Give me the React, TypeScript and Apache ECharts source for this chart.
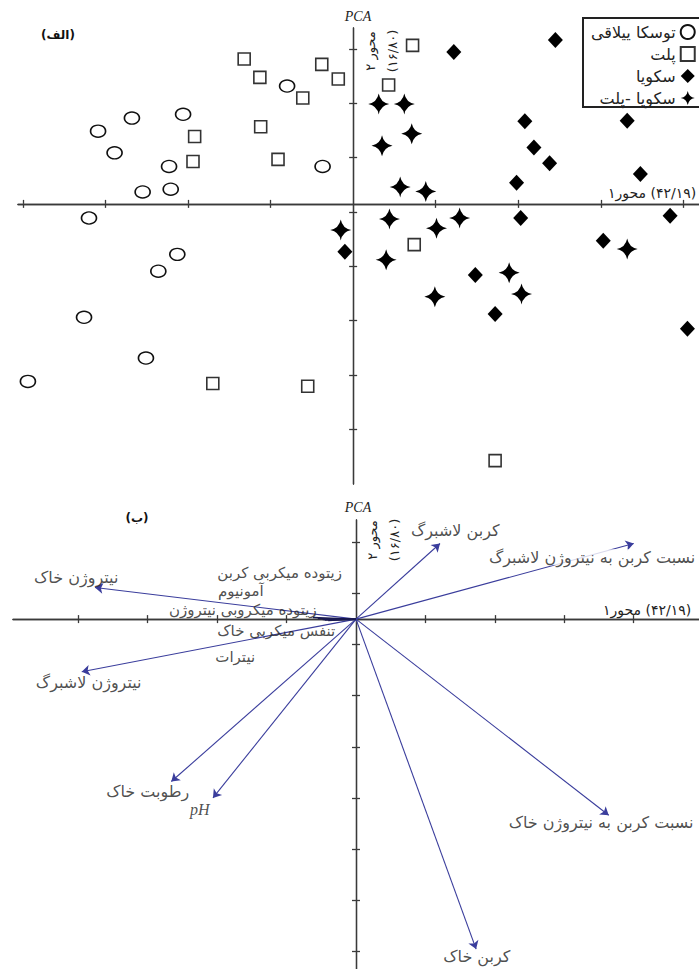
import React, { useEffect, useRef } from 'react';
import * as echarts from 'echarts';

// ---------- DATA ----------
const groupNames = ['توسکا ییلاقی', 'پلت', 'سکویا', 'سکویا -پلت'];

const alderScores = [
  [-3.09, 1.34], [-2.68, 1.58], [-2.06, 1.65], [-2.89, 0.94], [-2.23, 0.69],
  [-2.55, 0.22], [-2.21, 0.27], [-0.80, 2.17], [-0.37, 0.69], [-3.20, -0.26],
  [-2.13, -0.93], [-2.36, -1.24], [-3.26, -2.09], [-2.51, -2.84], [-3.94, -3.27],
];
const plantationScores = [
  [-1.32, 2.67], [-1.13, 2.33], [-0.38, 2.57], [-0.18, 2.30], [-0.61, 1.95],
  [-1.12, 1.42], [-1.92, 1.24], [-1.94, 0.78], [-0.91, 0.82], [0.72, 2.92],
  [0.43, 2.19], [-1.70, -3.31], [-0.55, -3.36], [0.74, -0.75], [1.72, -4.73],
];
const sequoiaScores = [
  [1.22, 2.80], [2.45, 3.02], [2.08, 1.52], [2.19, 1.04], [2.38, 0.75],
  [1.98, 0.39], [3.32, 1.53], [3.48, 0.55], [2.03, -0.26], [3.84, -0.22],
  [-0.10, -0.88], [3.03, -0.68], [1.48, -1.31], [1.72, -2.03], [4.05, -2.30],
];
const sequoiaPlantScores = [
  [0.31, 1.84], [0.62, 1.84], [0.71, 1.29], [0.35, 1.07], [0.57, 0.31],
  [0.88, 0.23], [0.44, -0.28], [1.01, -0.45], [1.29, -0.26], [-0.15, -0.48],
  [0.40, -1.03], [0.99, -1.71], [1.89, -1.27], [2.04, -1.66], [3.32, -0.83],
];

const variableNames = [
  'نیتروژن خاک', 'نیتروژن لاشبرگ', 'کربن لاشبرگ', 'نسبت کربن به نیتروژن لاشبرگ',
  'رطوبت خاک', 'pH', 'کربن خاک', 'نسبت کربن به نیتروژن خاک',
];
const variableLoadings = [
  [-3.76, 0.62], [-3.95, -1.03], [1.21, 1.48], [4.0, 1.48],
  [-2.66, -3.18], [-2.06, -3.50], [1.73, -6.46], [3.64, -3.84],
];
const variableLabelPos = [
  [-4.03, 0.82], [-3.85, -1.25], [1.43, 1.74], [3.40, 1.21],
  [-3.0, -3.37], [-2.25, -3.72], [1.74, -6.61], [3.53, -3.99],
];

const minorVariableNames = [
  'زیتوده میکربی کربن', 'آمونیوم', 'زیتوده میکروبی نیتروژن', 'تنفس میکربی خاک', 'نیترات',
];
const minorVariableLoadings = [
  [-0.62, 0.03], [-0.55, 0.01], [-0.48, 0.0], [-0.45, -0.02], [-0.40, -0.03],
];
const minorVariableLabelPos = [
  [-1.10, 0.90], [-1.66, 0.55], [-1.63, 0.17], [-1.15, -0.23], [-1.74, -0.74],
];

const topXTicks = [-4, -3, -2, -1, 1, 2, 3, 4];
const topYTicks = [2.85, 1.85, 0.85, -0.15, -1.15, -2.15, -3.15, -4.15];
const bottomXTicks = [-4, -3, -2, -1, 1, 2, 3, 4];
const bottomYTicks = [1.5, 0.5, -0.5, -1.5, -2.5, -3.5, -4.5, -5.5, -6.5];

// ---------- STYLE ----------
const FONT = '"DejaVu Sans", sans-serif';
const SERIF = '"Liberation Serif", "DejaVu Serif", serif';
const AXIS = '#3a3a3a';
const ARROW = '#3a3d9c';
const STAR = 'path://M10,0 Q11.6,8.4 20,10 Q11.6,11.6 10,20 Q8.4,11.6 0,10 Q8.4,8.4 10,0 Z';

function axisPair(kind: 'x' | 'y', gridIndex: number, min: number, max: number, ticks: number[]) {
  const positions = kind === 'x' ? ['bottom', 'top'] : ['left', 'right'];
  return positions.map((position) => ({
    type: 'value',
    gridIndex,
    position,
    min,
    max,
    axisLine: { show: true, onZero: true, lineStyle: { color: AXIS, width: 1.3 } },
    axisTick: { show: true, length: 4, customValues: ticks, lineStyle: { color: AXIS, width: 1.3 } },
    axisLabel: { show: false },
    splitLine: { show: false },
  }));
}

function axisOneLabel(x: number, y: number) {
  return {
    type: 'text',
    x,
    y,
    style: {
      text: '{a|۱}{b|محور}{c| (۴۲/۱۹)}',
      fontFamily: FONT,
      fontSize: 14,
      fill: '#222',
      align: 'left',
      verticalAlign: 'middle',
      rich: { a: {}, b: {}, c: {} },
    },
  };
}

export default function App() {
  const ref = useRef<HTMLDivElement>(null);

  useEffect(() => {
    if (!ref.current) return;
    const chart = echarts.init(ref.current, null, { renderer: 'svg' });

    const majorLines = variableLoadings.map((p) => ({ coords: [[0, 0], p] }));
    const minorLines = minorVariableLoadings.map((p) => ({ coords: [[0, 0], p] }));

    const labelData = variableNames.map((name, i) => {
      const item: any = { name, value: variableLabelPos[i] };
      if (name === 'pH') {
        item.label = { fontFamily: SERIF, fontStyle: 'italic', fontSize: 16 };
      }
      if (i === 3) {
        item.label = { backgroundColor: '#ffffff', padding: [0, 2] };
      }
      return item;
    });
    const minorLabelData = minorVariableNames.map((name, i) => ({ name, value: minorVariableLabelPos[i] }));

    const option: any = {
      animation: false,
      backgroundColor: '#ffffff',
      textStyle: { fontFamily: FONT },
      grid: [
        { left: 18, top: 28, width: 681, height: 456, containLabel: false, outerBoundsMode: 'none' },
        { left: 13, top: 520, width: 686, height: 449, containLabel: false, outerBoundsMode: 'none' },
      ],
      xAxis: [
        ...axisPair('x', 0, -4.06, 4.19, topXTicks),
        ...axisPair('x', 1, -4.94, 4.94, bottomXTicks),
      ],
      yAxis: [
        ...axisPair('y', 0, -5.16, 3.24, topYTicks),
        ...axisPair('y', 1, -6.85, 1.94, bottomYTicks),
      ],
      legend: {
        data: groupNames,
        orient: 'vertical',
        left: 583,
        top: 18,
        align: 'right',
        itemWidth: 14,
        itemHeight: 14,
        itemGap: 6,
        padding: [6, 30, 1, 8],
        borderColor: '#222',
        borderWidth: 2,
        backgroundColor: '#fff',
        textStyle: { fontFamily: FONT, fontSize: 16, color: '#222', width: 98, align: 'right' },
      },
      series: [
        {
          name: groupNames[0], type: 'scatter', xAxisIndex: 0, yAxisIndex: 0,
          symbol: 'circle', symbolSize: [15, 12], data: alderScores,
          itemStyle: { color: '#ffffff', borderColor: '#111', borderWidth: 1.5, opacity: 1 }, z: 5,
        },
        {
          name: groupNames[1], type: 'scatter', xAxisIndex: 0, yAxisIndex: 0,
          symbol: 'rect', symbolSize: 12, data: plantationScores,
          itemStyle: { color: '#ffffff', borderColor: '#333', borderWidth: 1.6, opacity: 1 }, z: 5,
        },
        {
          name: groupNames[2], type: 'scatter', xAxisIndex: 0, yAxisIndex: 0,
          symbol: 'diamond', symbolSize: [15, 16], data: sequoiaScores,
          itemStyle: { color: '#000000', opacity: 1 }, z: 5,
        },
        {
          name: groupNames[3], type: 'scatter', xAxisIndex: 0, yAxisIndex: 0,
          symbol: STAR, symbolSize: 21, data: sequoiaPlantScores,
          itemStyle: { color: '#000000', opacity: 1 }, z: 5,
        },
        {
          name: 'بردارها', type: 'lines', coordinateSystem: 'cartesian2d', xAxisIndex: 2, yAxisIndex: 2,
          symbol: ['none', 'arrow'], symbolSize: 8, data: majorLines,
          lineStyle: { color: ARROW, width: 1.1, opacity: 1, curveness: 0 }, z: 3,
        },
        {
          name: 'بردارهای کوتاه', type: 'lines', coordinateSystem: 'cartesian2d', xAxisIndex: 2, yAxisIndex: 2,
          symbol: ['none', 'none'], data: minorLines,
          lineStyle: { color: '#1a1a50', width: 1.4, opacity: 1, curveness: 0 }, z: 3,
        },
        {
          name: 'برچسب', type: 'scatter', xAxisIndex: 2, yAxisIndex: 2,
          symbol: 'circle', symbolSize: 1, data: labelData, silent: true,
          itemStyle: { color: 'rgba(0,0,0,0)' }, z: 10,
          label: { show: true, position: 'inside', formatter: '{b}', fontFamily: FONT, fontSize: 16, color: '#222' },
        },
        {
          name: 'برچسب کوتاه', type: 'scatter', xAxisIndex: 2, yAxisIndex: 2,
          symbol: 'circle', symbolSize: 1, data: minorLabelData, silent: true,
          itemStyle: { color: 'rgba(0,0,0,0)' }, z: 10,
          label: { show: true, position: 'inside', formatter: '{b}', fontFamily: FONT, fontSize: 15, color: '#222' },
        },
      ],
      graphic: [
        { type: 'text', x: 58, y: 35, style: { text: '(الف)', font: `bold 12px ${FONT}`, fill: '#111', align: 'center', verticalAlign: 'middle' } },
        { type: 'text', x: 358, y: 16, style: { text: 'PCA', font: `italic 14px ${SERIF}`, fill: '#222', align: 'center', verticalAlign: 'middle' } },
        { type: 'text', x: 381, y: 51, rotation: Math.PI / 2, style: { text: 'محور ۲\n(۱۶/۸۰)', font: `13px ${FONT}`, fill: '#222', align: 'center', verticalAlign: 'middle', lineHeight: 22 } },
        axisOneLabel(608, 193),
        { type: 'text', x: 137, y: 518, style: { text: '(ب)', font: `bold 12px ${FONT}`, fill: '#111', align: 'center', verticalAlign: 'middle' } },
        { type: 'text', x: 358, y: 507, style: { text: 'PCA', font: `italic 14px ${SERIF}`, fill: '#222', align: 'center', verticalAlign: 'middle' } },
        { type: 'text', x: 383, y: 540, rotation: Math.PI / 2, style: { text: 'محور ۲\n(۱۶/۸۰)', font: `13px ${FONT}`, fill: '#222', align: 'center', verticalAlign: 'middle', lineHeight: 22 } },
        axisOneLabel(603, 610),
      ],
    };

    chart.setOption(option);
    return () => chart.dispose();
  }, []);

  return (
    <div style={{ position: 'absolute', left: 0, top: 0, width: 699, height: 969, overflow: 'hidden', background: '#fff' }}>
      <div ref={ref} style={{ width: 760, height: 969 }} />
    </div>
  );
}
